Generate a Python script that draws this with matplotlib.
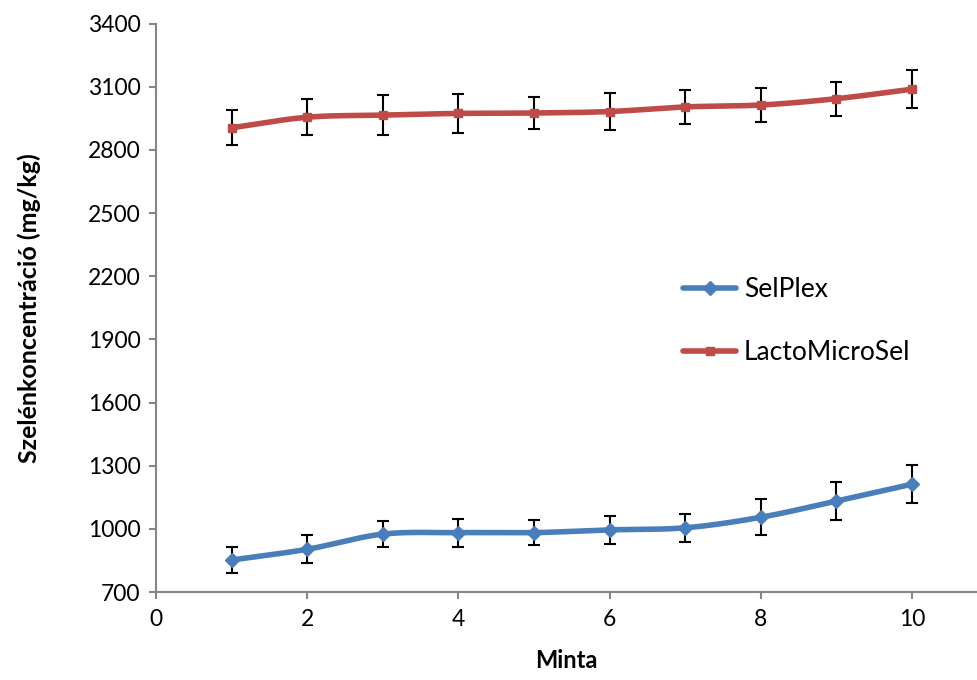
import matplotlib.pyplot as plt
import numpy as np

plt.rcParams['font.family'] = ['Lato', 'DejaVu Sans']

minta = [1, 2, 3, 4, 5, 6, 7, 8, 9, 10]
selplex = [852, 903, 975, 982, 982, 995, 1005, 1055, 1132, 1212]
selplex_err = [62, 66, 60, 66, 60, 66, 66, 85, 90, 90]
lacto = [2905, 2955, 2965, 2973, 2975, 2982, 3004, 3013, 3043, 3088]
lacto_err = [82, 86, 95, 93, 76, 87, 80, 80, 80, 90]

blue = '#4A7EBB'
red = '#BE4B48'
grey = '#868686'


def smooth(x, y, n=30):
    # Catmull-Rom curve through the points, like Excel's smoothed line
    x = np.asarray(x, float)
    y = np.asarray(y, float)
    px = np.concatenate([[2 * x[0] - x[1]], x, [2 * x[-1] - x[-2]]])
    py = np.concatenate([[2 * y[0] - y[1]], y, [2 * y[-1] - y[-2]]])
    xs, ys = [], []
    t = np.linspace(0, 1, n)
    for i in range(1, len(px) - 2):
        for p, out in ((px, xs), (py, ys)):
            p0, p1, p2, p3 = p[i - 1], p[i], p[i + 1], p[i + 2]
            out.extend(0.5 * (2 * p1 + (-p0 + p2) * t
                              + (2 * p0 - 5 * p1 + 4 * p2 - p3) * t ** 2
                              + (-p0 + 3 * p1 - 3 * p2 + p3) * t ** 3))
    return xs, ys


fig = plt.figure(figsize=(9.77, 6.8), dpi=100)
ax = fig.add_axes([0.1597, 0.1294, 0.8403, 0.836])

for vals, err, col, mk, ms, name in [
        (selplex, selplex_err, blue, 'D', 7, 'SelPlex'),
        (lacto, lacto_err, red, 's', 6, 'LactoMicroSel')]:
    sx, sy = smooth(minta, vals)
    ax.plot(sx, sy, color=col, lw=4, solid_capstyle='round', zorder=2)
    ax.errorbar(minta, vals, yerr=err, fmt='none', ecolor='black',
                elinewidth=1.5, capsize=4, capthick=1.5, zorder=3)
    ax.plot(minta, vals, linestyle='none', marker=mk, ms=ms, color=col, zorder=4)
    ax.plot([], [], color=col, lw=4, marker=mk, ms=ms, label=name,
            solid_capstyle='round')

ax.set_xlim(0, 10.86)
ax.set_ylim(700, 3400)
ax.set_xticks([0, 2, 4, 6, 8, 10])
ax.set_yticks(np.arange(700, 3401, 300))

for s in ['top', 'right']:
    ax.spines[s].set_visible(False)
for s in ['left', 'bottom']:
    ax.spines[s].set_color(grey)
    ax.spines[s].set_linewidth(1.5)
ax.tick_params(colors=grey, labelcolor='black', width=1.5, length=5,
               labelsize=16.5)
ax.tick_params(axis='y', pad=6)
ax.tick_params(axis='x', pad=7)

ax.set_xlabel('Minta', fontsize=17, fontweight='bold', labelpad=14)
ax.set_ylabel('Szelénkoncentráció (mg/kg)', fontsize=18, fontweight='bold',
              labelpad=34)

ax.legend(loc='upper left', bbox_to_anchor=(0.675, 0.627),
          bbox_transform=fig.transFigure, frameon=False, fontsize=19,
          handlelength=2.0, labelspacing=1.42, numpoints=1, handletextpad=0.3)

fig.savefig('out.png', dpi=100)
